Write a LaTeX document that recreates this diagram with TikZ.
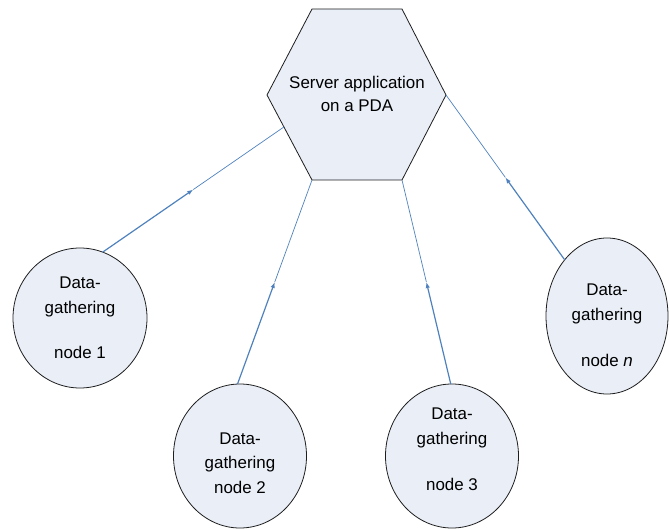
\documentclass[tikz,border=0pt]{standalone}
\usepackage{fontspec}
\setmainfont{Liberation Sans}
\usetikzlibrary{shapes.geometric,arrows.meta,calc}
\definecolor{shapefill}{RGB}{233,238,247}
\definecolor{linkblue}{RGB}{79,129,189}
\definecolor{outline}{RGB}{30,30,30}
\tikzset{
  gnode/.style={ellipse, draw=outline, line width=0.8bp, fill=shapefill,
    inner sep=0pt, outer sep=0pt, align=center, font=\fontsize{17}{25}\selectfont},
  hexshape/.style={draw=outline, line width=0.8bp, fill=shapefill, line join=miter},
  hextext/.style={align=center, inner sep=0pt, font=\fontsize{17}{23}\selectfont},
  linkthick/.style={draw=linkblue, line width=1.2bp, -{Latex[length=6bp,width=4.5bp]}},
  linkthin/.style={draw=linkblue, line width=0.7bp},
}
\begin{document}
\begin{tikzpicture}[x=1bp,y=-1bp]
\useasboundingbox (0,0) rectangle (669,529);
% hexagon corners
\coordinate (hTL) at (312,9);
\coordinate (hTR) at (402,9);
\coordinate (hR)  at (446,95);
\coordinate (hBR) at (402,180);
\coordinate (hBL) at (312,180);
\coordinate (hL)  at (267,95);
\draw[hexshape] (hTL) -- (hTR) -- (hR) -- (hBR) -- (hBL) -- (hL) -- cycle;
\node[hextext] (srv) at (357,94) {Server application\\on a PDA};
\coordinate (e1) at ($(hL)!0.376!(hBL)$);
% gathering nodes
\node[gnode, minimum width=134bp, minimum height=140bp] (n1) at (80,318)
  {Data-\\gathering\\[20bp]node 1};
\node[gnode, minimum width=133bp, minimum height=144bp] (n2) at (240,456)
  {\rule{0pt}{26bp}Data-\\gathering\\node 2};
\node[gnode, minimum width=133bp, minimum height=144bp] (n3) at (452,456)
  {Data-\\gathering\\[21bp]node 3\rule[-14bp]{0pt}{0pt}};
\node[gnode, minimum width=122bp, minimum height=156bp] (nn) at (607,316)
  {\rule{0pt}{30bp}Data-\\gathering\\[21bp]node \textit{n}};
% connectors
\coordinate (m1) at ($(n1.71.8)!0.5!(e1)$);
\coordinate (m2) at ($(n2.92.4)!0.5!(hBL)$);
\coordinate (m3) at ($(n3.91.6)!0.5!(hBR)$);
\coordinate (mn) at ($(nn.127.9)!0.5!(hR)$);
\draw[linkthick] (n1.71.8) -- (m1);
\draw[linkthin] (m1) -- (e1);
\draw[linkthick] (n2.92.4) -- (m2);
\draw[linkthin] (m2) -- (hBL);
\draw[linkthick] (n3.91.6) -- (m3);
\draw[linkthin] (m3) -- (hBR);
\draw[linkthick] (nn.127.9) -- (mn);
\draw[linkthin] (mn) -- (hR);
\end{tikzpicture}
\end{document}
